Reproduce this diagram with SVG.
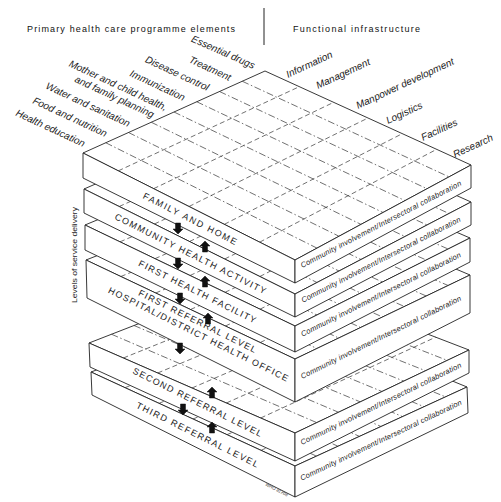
<svg xmlns="http://www.w3.org/2000/svg" width="501" height="502" viewBox="0 0 501 502">
  <style>
    .bg { fill: #ffffff; }
    .face { fill: #ffffff; stroke: #222; stroke-width: 0.9; stroke-linejoin: round; }
    .gu { fill: none; stroke: #333; stroke-width: 0.7; stroke-dasharray: 7 2.5 1.5 2.5; }
    .gv { fill: none; stroke: #333; stroke-width: 0.7; stroke-dasharray: 5 3; }
    .head { font-family: "Liberation Sans", Arial, sans-serif; font-size: 9px; fill: #111; }
    .elem { font-family: "Liberation Sans", Arial, sans-serif; font-size: 10px; font-style: italic; fill: #222; }
    .lvl { font-family: "Liberation Sans", Arial, sans-serif; font-size: 9px; fill: #222; text-anchor: middle; }
    .ci { font-family: "Liberation Sans", Arial, sans-serif; font-size: 7.5px; font-style: italic; fill: #222; text-anchor: middle; }
    .side { font-family: "Liberation Sans", Arial, sans-serif; font-size: 8px; fill: #222; text-anchor: middle; }
    .tiny { font-family: "Liberation Sans", Arial, sans-serif; font-size: 4.5px; font-style: italic; fill: #444; text-anchor: middle; }
    .arrow { fill: #111; stroke: #111; stroke-width: 0.5; stroke-linejoin: round; }
  </style>

  <rect class="bg" x="0" y="0" width="501" height="502"/>

  <!-- column headings -->
  <g id="headings">
    <text class="head" x="27" y="31.5" textLength="208" lengthAdjust="spacing">Primary health care programme elements</text>
    <line x1="264" y1="8" x2="264" y2="45" stroke="#222" stroke-width="1"/>
    <text class="head" x="293" y="31.5" textLength="127" lengthAdjust="spacing">Functional infrastructure</text>
  </g>

  <!-- programme elements along the left back edge -->
  <g id="programme-elements" text-anchor="end">
    <text class="elem" transform="translate(83,147) rotate(25)">Health education</text>
    <text class="elem" transform="translate(105,137) rotate(25)">Food and nutrition</text>
    <text class="elem" transform="translate(128,127) rotate(25)">Water and sanitation</text>
    <text class="elem" transform="translate(165,111) rotate(25)">Mother and child health,</text>
    <text class="elem" transform="translate(152,118) rotate(25)">and family planning</text>
    <text class="elem" transform="translate(183,101) rotate(25)">Immunization</text>
    <text class="elem" transform="translate(207,91) rotate(25)">Disease control</text>
    <text class="elem" transform="translate(229,81) rotate(25)">Treatment</text>
    <text class="elem" transform="translate(253,69) rotate(24)">Essential drugs</text>
  </g>

  <!-- functional infrastructure along the right back edge -->
  <g id="infrastructure">
    <text class="elem" transform="translate(288,78) rotate(-25)">Information</text>
    <text class="elem" transform="translate(318,89) rotate(-25)">Management</text>
    <text class="elem" transform="translate(358,109) rotate(-25)">Manpower development</text>
    <text class="elem" transform="translate(388,124) rotate(-25)">Logistics</text>
    <text class="elem" transform="translate(423,141) rotate(-25)">Facilities</text>
    <text class="elem" transform="translate(455,158) rotate(-25)">Research</text>
  </g>

  <text class="side" transform="translate(77,255) rotate(-90)" textLength="96" lengthAdjust="spacingAndGlyphs">Levels of service delivery</text>

  <!-- slabs, painted from the bottom of the stack upwards -->
  <g id="level-third-referral">
    <polygon class="face" points="91,372 269,306 467,387 295,466"/>
    <path class="gu" d="M113.25 363.75L316.5 456.13M135.5 355.5L338 446.25M157.75 347.25L359.5 436.38M180 339L381 426.5M202.25 330.75L402.5 416.63M224.5 322.5L424 406.75M246.75 314.25L445.5 396.88"/>
    <path class="gv" d="M125 387.67L302 319.5M159 403.33L335 333M193 419L368 346.5M227 434.67L401 360M261 450.33L434 373.5"/>
    <polygon class="face" points="91,372 295,466 295,497 92,395"/>
    <polygon class="face" points="295,466 467,387 468,413 295,497"/>
    <text class="lvl" transform="translate(196,437.5) rotate(26.5)" textLength="135" lengthAdjust="spacing">THIRD REFERRAL LEVEL</text>
    <text class="ci" transform="translate(382,442.5) rotate(-25.5)" textLength="178" lengthAdjust="spacing">Community involvement/Intersectoral collaboration</text>
  </g>

  <g id="level-second-referral">
    <polygon class="face" points="89,343 269,273 469,350 295,433"/>
    <path class="gu" d="M111.5 334.25L316.75 422.63M134 325.5L338.5 412.25M156.5 316.75L360.25 401.88M179 308L382 391.5M201.5 299.25L403.75 381.13M224 290.5L425.5 370.75M246.5 281.75L447.25 360.38"/>
    <path class="gv" d="M123.33 358L302.33 285.83M157.67 373L335.67 298.67M192 388L369 311.5M226.33 403L402.33 324.33M260.67 418L435.67 337.17"/>
    <polygon class="face" points="89,343 295,433 295,461 90,367"/>
    <polygon class="face" points="295,433 469,350 469,373 295,461"/>
    <text class="lvl" transform="translate(196,405) rotate(26.5)" textLength="143" lengthAdjust="spacing">SECOND REFERRAL LEVEL</text>
    <text class="ci" transform="translate(382,406) rotate(-26)" textLength="178" lengthAdjust="spacing">Community involvement/Intersectoral collaboration</text>
  </g>

  <g id="level-first-referral">
    <polygon class="face" points="86,260 267,189 470,275 295,359"/>
    <path class="gu" d="M108.63 251.13L316.88 348.5M131.25 242.25L338.75 338M153.88 233.38L360.63 327.5M176.5 224.5L382.5 317M199.13 215.63L404.38 306.5M221.75 206.75L426.25 296M244.38 197.88L448.13 285.5"/>
    <path class="gv" d="M120.83 276.5L300.83 203.33M155.67 293L334.67 217.67M190.5 309.5L368.5 232M225.33 326L402.33 246.33M260.17 342.5L436.17 260.67"/>
    <polygon class="face" points="86,260 295,359 295,402 87,298"/>
    <polygon class="face" points="295,359 470,275 470,313 295,402"/>
    <text class="lvl" transform="translate(196,324) rotate(26.5)" textLength="130" lengthAdjust="spacing">FIRST REFERRAL LEVEL</text>
    <text class="lvl" transform="translate(197,337) rotate(26.5)" textLength="200" lengthAdjust="spacing">HOSPITAL/DISTRICT HEALTH OFFICE</text>
    <text class="ci" transform="translate(382,339.5) rotate(-26.3)" textLength="178" lengthAdjust="spacing">Community involvement/Intersectoral collaboration</text>
  </g>

  <g id="level-first-health-facility">
    <polygon class="face" points="85,225 266,150 470,238 295,326"/>
    <path class="gu" d="M107.63 215.63L316.88 315M130.25 206.25L338.75 304M152.88 196.88L360.63 293M175.5 187.5L382.5 282M198.13 178.13L404.38 271M220.75 168.75L426.25 260M243.38 159.38L448.13 249"/>
    <path class="gv" d="M120 241.83L300 164.67M155 258.67L334 179.33M190 275.5L368 194M225 292.33L402 208.67M260 309.17L436 223.33"/>
    <polygon class="face" points="85,225 295,326 295,352 85,250"/>
    <polygon class="face" points="295,326 470,238 470,262 295,352"/>
    <text class="lvl" transform="translate(196,294.5) rotate(26.5)" textLength="130" lengthAdjust="spacing">FIRST HEALTH FACILITY</text>
    <text class="ci" transform="translate(382,296.7) rotate(-26.7)" textLength="178" lengthAdjust="spacing">Community involvement/Intersectoral collaboration</text>
  </g>

  <g id="level-community-health-activity">
    <polygon class="face" points="84,189 266,110 471,202 295,294"/>
    <path class="gu" d="M106.75 179.13L317 282.5M129.5 169.25L339 271M152.25 159.38L361 259.5M175 149.5L383 248M197.75 139.63L405 236.5M220.5 129.75L427 225M243.25 119.88L449 213.5"/>
    <path class="gv" d="M119.17 206.5L300.17 125.33M154.33 224L334.33 140.67M189.5 241.5L368.5 156M224.67 259L402.67 171.33M259.83 276.5L436.83 186.67"/>
    <polygon class="face" points="84,189 295,294 295,317 84,213"/>
    <polygon class="face" points="295,294 471,202 471,225 295,317"/>
    <text class="lvl" transform="translate(189,256.5) rotate(26.7)" textLength="168" lengthAdjust="spacing">COMMUNITY HEALTH ACTIVITY</text>
    <text class="ci" transform="translate(382,262) rotate(-27.3)" textLength="178" lengthAdjust="spacing">Community involvement/Intersectoral collaboration</text>
  </g>

  <g id="level-family-and-home">
    <polygon class="face" points="83,153 265,71 471,165 295,260"/>
    <path class="gu" d="M105.75 142.75L317 248.13M128.5 132.5L339 236.25M151.25 122.25L361 224.38M174 112L383 212.5M196.75 101.75L405 200.63M219.5 91.5L427 188.75M242.25 81.25L449 176.88"/>
    <path class="gv" d="M118.33 170.83L299.33 86.67M153.67 188.67L333.67 102.33M189 206.5L368 118M224.33 224.33L402.33 133.67M259.67 242.17L436.67 149.33"/>
    <polygon class="face" points="83,153 295,260 295,283 83,178"/>
    <polygon class="face" points="295,260 471,165 471,188 295,283"/>
    <text class="lvl" transform="translate(188.5,221.5) rotate(27)" textLength="104" lengthAdjust="spacing">FAMILY AND HOME</text>
    <text class="ci" transform="translate(382,226.5) rotate(-27.5)" textLength="180" lengthAdjust="spacing">Community involvement/Intersectoral collaboration</text>
  </g>

  <!-- referral arrows between levels -->
  <g id="connectors">
    <polygon class="arrow" points="175.5,223 180.5,223 180.5,229 183,229 178,234 173,229 175.5,229"/>
    <polygon class="arrow" points="202.5,252 207.5,252 207.5,246 210,246 205,241 200,246 202.5,246"/>
    <polygon class="arrow" points="175.5,258 180.5,258 180.5,264 183,264 178,269 173,264 175.5,264"/>
    <polygon class="arrow" points="202.5,287 207.5,287 207.5,281 210,281 205,276 200,281 202.5,281"/>
    <polygon class="arrow" points="177.5,293 182.5,293 182.5,299 185,299 180,304 175,299 177.5,299"/>
    <polygon class="arrow" points="205.5,324 210.5,324 210.5,318 213,318 208,313 203,318 205.5,318"/>
    <polygon class="arrow" points="177.5,343 182.5,343 182.5,349 185,349 180,354 175,349 177.5,349"/>
    <polygon class="arrow" points="209.5,398 214.5,398 214.5,392 217,392 212,387 207,392 209.5,392"/>
    <polygon class="arrow" points="180.5,404 185.5,404 185.5,410 188,410 183,415 178,410 180.5,410"/>
    <polygon class="arrow" points="209.5,433 214.5,433 214.5,427 217,427 212,422 207,427 209.5,427"/>
  </g>

  <text class="tiny" transform="translate(276,491) rotate(27)">WHO 81708</text>
</svg>
